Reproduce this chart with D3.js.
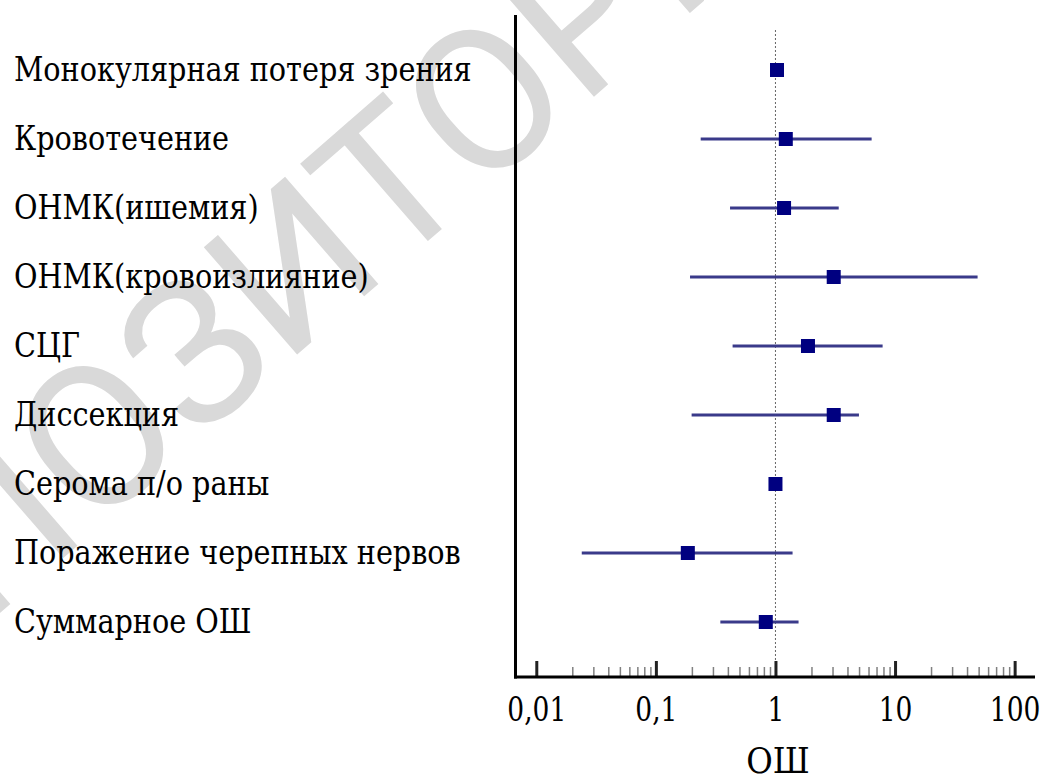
<!DOCTYPE html>
<html>
<head>
<meta charset="utf-8">
<script src="https://cdn.jsdelivr.net/npm/d3@7"></script>
<style>
  html, body { margin: 0; padding: 0; background: #fff; }
  svg { display: block; }
</style>
</head>
<body>
<svg id="chart" width="1045" height="781"></svg>
<script>
// ---- data ----
const categories = [
  "Монокулярная потеря зрения",
  "Кровотечение",
  "ОНМК(ишемия)",
  "ОНМК(кровоизлияние)",
  "СЦГ",
  "Диссекция",
  "Серома п/о раны",
  "Поражение черепных нервов",
  "Суммарное ОШ"
];
const oddsRatio = [1.03, 1.22, 1.18, 3.07, 1.87, 3.07, 1.0, 0.185, 0.83];
const ciLower   = [null, 0.237, 0.417, 0.193, 0.438, 0.199, null, 0.024, 0.346];
const ciUpper   = [null, 6.37, 3.38, 49, 7.87, 4.99, null, 1.39, 1.56];
const majorTicks = [0.01, 0.1, 1, 10, 100];
const majorTickLabels = ["0,01", "0,1", "1", "10", "100"];
const axisTitle = "ОШ";
const watermarkHead = "РЕ";
const watermarkTail = "ПОЗИТОРИЙ БГМУ";

// ---- layout ----
const SERIF = "DejaVu Serif Condensed, DejaVu Serif, serif";
const svg = d3.select("#chart");
const axisY = 677, axisX = 515.5;

const x = d3.scaleLog().domain([0.00651, 148]).range([514, 1035]);
const y = d3.scalePoint().domain(categories).range([70, 622]);

// horizontal squeeze so the serif face matches the Times-like widths of the original
function squeeze(sel, measured, targetWidth, ox) {
  const k = measured > 0 ? Math.min(1, targetWidth / measured) : 1;
  sel.attr("transform", `translate(${ox},0) scale(${k},1) translate(${-ox},0)`);
}

// watermark
const wm = svg.append("g")
  .attr("transform", "translate(-62,576) rotate(-41)")
  .attr("font-family", "Roboto, Noto Sans, sans-serif")
  .attr("font-size", 200)
  .attr("fill", "#d9d9d9");
wm.append("text").attr("text-anchor", "end").attr("dominant-baseline", "central").text(watermarkHead);
wm.append("text").attr("text-anchor", "start").attr("dominant-baseline", "central").text(watermarkTail);

// reference line at OR = 1
svg.append("line")
  .attr("x1", x(1)).attr("x2", x(1))
  .attr("y1", 30).attr("y2", axisY)
  .attr("stroke", "#666").attr("stroke-width", 1)
  .attr("stroke-dasharray", "2,2");

// minor ticks
const minorTicks = [];
[0.01, 0.1, 1, 10].forEach(d => { for (let k = 2; k <= 9; k++) minorTicks.push(+(d * k).toPrecision(3)); });

const minorAxis = d3.axisBottom(x).tickValues(minorTicks).tickSizeInner(-10).tickSizeOuter(0).tickFormat("");
const gMinor = svg.append("g").attr("transform", `translate(0,${axisY})`).call(minorAxis);
gMinor.select(".domain").remove();
gMinor.selectAll(".tick line").attr("stroke", "#808080").attr("stroke-width", 1.5);

const majorAxis = d3.axisBottom(x).tickValues(majorTicks).tickSizeInner(-16).tickSizeOuter(0)
  .tickPadding(20)
  .tickFormat((d, i) => majorTickLabels[i]);
const gMajor = svg.append("g").attr("transform", `translate(0,${axisY})`).call(majorAxis);
gMajor.attr("font-family", SERIF).attr("font-size", 33);
gMajor.select(".domain").remove();
gMajor.selectAll(".tick line").attr("stroke", "#222").attr("stroke-width", 3);
const tickTexts = gMajor.selectAll(".tick text").attr("fill", "#000").attr("dy", null).attr("y", 44);
{
  const first = tickTexts.filter((d, i) => i === 0).node();
  const w = first.getComputedTextLength();
  const k = Math.min(1, 59 / w);
  tickTexts.attr("transform", `scale(${k},1)`);
}

// axis lines
svg.append("line").attr("x1", 514).attr("x2", 1035).attr("y1", axisY).attr("y2", axisY)
  .attr("stroke", "#000").attr("stroke-width", 3);
svg.append("line").attr("x1", axisX).attr("x2", axisX).attr("y1", 15).attr("y2", axisY + 1.5)
  .attr("stroke", "#000").attr("stroke-width", 3);

// axis title
const title = svg.append("text")
  .attr("font-family", SERIF)
  .attr("x", 778).attr("y", 773)
  .attr("text-anchor", "middle")
  .attr("font-size", 36)
  .text(axisTitle);
squeeze(title, title.node().getComputedTextLength(), 64, 778);

// category labels
const labG = svg.append("g").attr("font-family", SERIF).attr("font-size", 34);
const labs = labG.selectAll("text").data(categories).join("text")
  .attr("x", 14).attr("y", d => y(d) + 11)
  .attr("fill", "#000")
  .text(d => d);
squeeze(labG, labs.filter((d, i) => i === 0).node().getComputedTextLength(), 458, 14);

// CI lines
const rows = categories.map((c, i) => ({ c, or: oddsRatio[i], lo: ciLower[i], hi: ciUpper[i] }));
svg.append("g").selectAll("line").data(rows.filter(r => r.lo != null)).join("line")
  .attr("x1", d => x(d.lo)).attr("x2", d => x(d.hi))
  .attr("y1", d => y(d.c)).attr("y2", d => y(d.c))
  .attr("stroke", "#3a3a8a").attr("stroke-width", 3);

// point estimates
const sq = 14;
svg.append("g").selectAll("rect").data(rows).join("rect")
  .attr("x", d => x(d.or) - sq / 2).attr("y", d => y(d.c) - sq / 2)
  .attr("width", sq).attr("height", sq)
  .attr("fill", "#000080");
</script>
</body>
</html>
